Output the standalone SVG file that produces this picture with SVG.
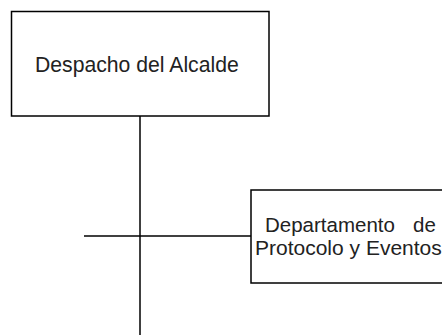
<svg xmlns="http://www.w3.org/2000/svg" width="442" height="335" viewBox="0 0 442 335">
<style>
.box{fill:#fff;stroke:#000;stroke-width:1.5}
.conn{stroke:#000;stroke-width:1.5;fill:none}
.t{font-family:"Liberation Sans",Arial,sans-serif;fill:#222}
</style>
<rect width="442" height="335" fill="#fff"/>
<g id="connectors">
<line class="conn" x1="140" y1="116" x2="140" y2="335"/>
<line class="conn" x1="84" y1="236" x2="251" y2="236"/>
</g>
<g id="node-despacho">
<rect class="box" x="11.5" y="11.5" width="257.5" height="104.5"/>
<text class="t" x="35" y="72" font-size="21.2">Despacho del Alcalde</text>
</g>
<g id="node-protocolo">
<rect class="box" x="251" y="190" width="200" height="93"/>
<text class="t" x="265" y="232" font-size="20.5">Departamento <tspan x="413">de</tspan></text>
<text class="t" x="255" y="254.5" font-size="21">Protocolo y Eventos</text>
</g>
</svg>
